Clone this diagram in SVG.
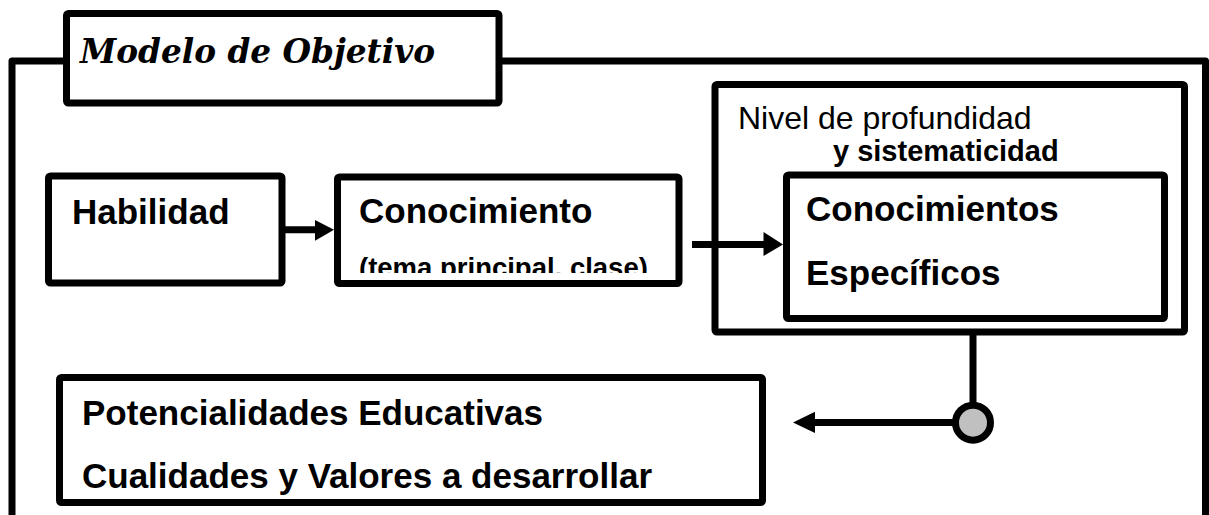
<svg xmlns="http://www.w3.org/2000/svg" width="1209" height="515" viewBox="0 0 1209 515">
  <defs>
    <style>
      .box { fill: #ffffff; stroke: #000000; stroke-width: 7; stroke-linejoin: round; }
      .frame { fill: none; stroke: #000000; stroke-width: 7; stroke-linejoin: round; }
      .line { fill: none; stroke: #000000; stroke-width: 7; }
      .head { fill: #000000; stroke: none; }
      .b { font-family: "Liberation Sans", Arial, sans-serif; font-weight: bold; fill: #000000; }
      .r { font-family: "Liberation Sans", Arial, sans-serif; font-weight: normal; fill: #000000; }
      .title { font-family: "DejaVu Serif", "Liberation Serif", serif; font-weight: bold; font-style: italic; fill: #000000; }
    </style>
    <clipPath id="clipConoc">
      <rect x="341" y="180" width="334" height="93"/>
    </clipPath>
  </defs>

  <g id="frame">
    <path class="frame" d="M12,515 V61 H66"/>
    <path class="frame" d="M499,61 H1205.5 V515"/>
  </g>

  <g id="title">
    <rect class="box" x="66.5" y="13.5" width="432.5" height="89.5" rx="2"/>
    <text class="title" x="80" y="63" font-size="34" textLength="355" lengthAdjust="spacingAndGlyphs">Modelo de Objetivo</text>
  </g>

  <g id="nivel">
    <rect class="box" x="715" y="84.5" width="469.5" height="247.5" rx="2"/>
    <text class="r" x="738" y="129" font-size="32">Nivel de profundidad</text>
    <text class="b" x="833" y="161" font-size="29">y sistematicidad</text>
  </g>

  <g id="especificos">
    <rect class="box" x="786.5" y="175" width="378" height="143.5" rx="2"/>
    <text class="b" x="806" y="221" font-size="35">Conocimientos</text>
    <text class="b" x="806" y="285" font-size="35">Específicos</text>
  </g>

  <g id="habilidad">
    <rect class="box" x="48.5" y="176" width="233.5" height="107" rx="2"/>
    <text class="b" x="72" y="224" font-size="35">Habilidad</text>
  </g>

  <g id="conocimiento">
    <rect class="box" x="337.5" y="177" width="341.5" height="106.5" rx="2"/>
    <text class="b" x="359" y="223" font-size="35">Conocimiento</text>
    <text class="b" x="359" y="277" font-size="27.5" clip-path="url(#clipConoc)">(tema principal, clase)</text>
  </g>

  <g id="potencialidades">
    <rect class="box" x="59.5" y="377.5" width="703" height="125" rx="2"/>
    <text class="b" x="82" y="425" font-size="35">Potencialidades Educativas</text>
    <text class="b" x="82" y="488" font-size="35">Cualidades y Valores a desarrollar</text>
  </g>

  <g id="connectors">
    <line class="line" x1="282" y1="229.7" x2="318" y2="229.7"/>
    <polygon class="head" points="315,220 334,229.7 315,240.7"/>
    <line class="line" x1="692" y1="244.5" x2="766" y2="244.5"/>
    <polygon class="head" points="763.5,232 783,244.5 763.5,256"/>
    <line class="line" x1="973" y1="332" x2="973" y2="406"/>
    <line class="line" x1="956" y1="422.5" x2="812" y2="422.5"/>
    <polygon class="head" points="815,411.7 793,422.5 815,433"/>
    <circle cx="973" cy="422.7" r="17.5" fill="#c0c0c0" stroke="#000000" stroke-width="7"/>
  </g>
</svg>
